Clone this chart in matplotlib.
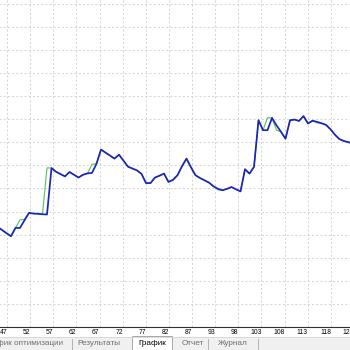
import matplotlib.pyplot as plt
from matplotlib.patches import Rectangle
from matplotlib.lines import Line2D

# MT4 strategy tester "График" tab - balance (blue) and equity (green) per trade

# DATA ---------------------------------------------------------------------------
trades = list(range(45, 125))

balance = [10134, 10120, 10106, 10093, 10129, 10129, 10162, 10194, 10191, 10190,
           10188, 10187, 10388, 10372, 10362, 10352, 10371, 10359, 10347, 10359,
           10365, 10367, 10407, 10468, 10455, 10442, 10429, 10446, 10420, 10394,
           10386, 10378, 10363, 10323, 10323, 10347, 10355, 10364, 10328, 10337,
           10357, 10396, 10429, 10391, 10357, 10345, 10335, 10325, 10309, 10298,
           10292, 10298, 10306, 10296, 10287, 10383, 10364, 10393, 10595, 10552,
           10552, 10605, 10573, 10545, 10515, 10595, 10598, 10592, 10613, 10581,
           10593, 10588, 10582, 10575, 10556, 10532, 10513, 10505, 10500, 10493]

equity = [10134, 10120, 10106, 10093, 10129, 10164, 10166, 10194, 10191, 10190,
          10188, 10389, 10388, 10372, 10362, 10352, 10371, 10359, 10347, 10359,
          10365, 10404, 10407, 10468, 10455, 10442, 10429, 10446, 10420, 10394,
          10386, 10378, 10363, 10323, 10323, 10347, 10355, 10364, 10328, 10337,
          10357, 10396, 10429, 10391, 10357, 10345, 10335, 10325, 10309, 10294,
          10292, 10298, 10306, 10296, 10287, 10383, 10364, 10393, 10595, 10552,
          10606, 10605, 10552, 10545, 10515, 10595, 10598, 10592, 10613, 10581,
          10593, 10584, 10582, 10575, 10556, 10532, 10513, 10505, 10500, 10493]

tick_labels = ['47', '52', '57', '62', '67', '72', '77', '82', '87', '93',
               '98', '103', '108', '113', '118', '123']
tab_labels = ['График оптимизации', 'Результаты', 'График', 'Отчет', 'Журнал']

# FIGURE -------------------------------------------------------------------------
W = H = 350
fig = plt.figure(figsize=(3.5, 3.5), dpi=100)
fig.patch.set_facecolor('white')

# axes reaches past the left/right/top edges, like the cropped screenshot
ax = fig.add_axes([-35 / W, 23 / H, 420 / W, 370 / H])
px_per_trade = 4.5
x0 = 48 - 46 / px_per_trade                      # trade number at axes left edge
ax.set_xlim(x0, x0 + 420 / px_per_trade)
ax.set_ylim(9700, 9700 + 370 * 100 / 23.1)

ax.plot(trades, equity, color='#5fc45f', lw=0.85, zorder=2)
ax.plot(trades, balance, color='#1b25b8', lw=1.25, zorder=3)

# GRID / AXES --------------------------------------------------------------------
grid_step = 23.13 / px_per_trade
xticks = [47.11 + grid_step * k for k in range(len(tick_labels))]
ax.set_xticks(xticks)
ax.set_xticklabels(tick_labels, ha='right', fontsize=4.9, family='Liberation Sans')
ax.set_yticks([9700 + 100 * k for k in range(1, 16)])
ax.tick_params(axis='x', length=0, pad=1.3, colors='#000000')
ax.tick_params(axis='y', length=0, labelleft=False)
ax.grid(True, color='#d6d6d6', lw=0.75, linestyle=(0, (2, 2)))
ax.set_axisbelow(True)
for side in ['left', 'right', 'top']:
    ax.spines[side].set_visible(False)
ax.spines['bottom'].set_color('#303030')
ax.spines['bottom'].set_linewidth(0.8)

# TAB BAR ------------------------------------------------------------------------
def fx(px):
    return px / W

def fy(py):
    return 1 - py / H

fig.patches.append(Rectangle((0, 0), 1, fy(337), transform=fig.transFigure,
                             facecolor='#f0f0f0', edgecolor='none', zorder=0))
fig.add_artist(Line2D([0, 1], [fy(337.2), fy(337.2)], color='#d4d4d4', lw=0.6))
# active tab
fig.patches.append(Rectangle((fx(131.5), 0), fx(172) - fx(131.5), fy(336),
                             transform=fig.transFigure, facecolor='white',
                             edgecolor='#9a9a9a', lw=0.6, zorder=1))
for sx in [72, 208, 258]:
    fig.add_artist(Line2D([fx(sx), fx(sx)], [fy(349), fy(339)], color='#a8a8a8', lw=0.6))

tab_x = [63.5, 99, 152.5, 192.5, 232.5]
tab_ha = ['right', 'center', 'center', 'center', 'center']
for lab, tx, ha in zip(tab_labels, tab_x, tab_ha):
    fig.text(fx(tx), fy(343.8), lab, ha=ha, va='center', fontsize=5.9,
             family='Liberation Sans',
             color='#000000' if lab == 'График' else '#6e6e6e', zorder=3)

fig.savefig('out.png', dpi=100)
